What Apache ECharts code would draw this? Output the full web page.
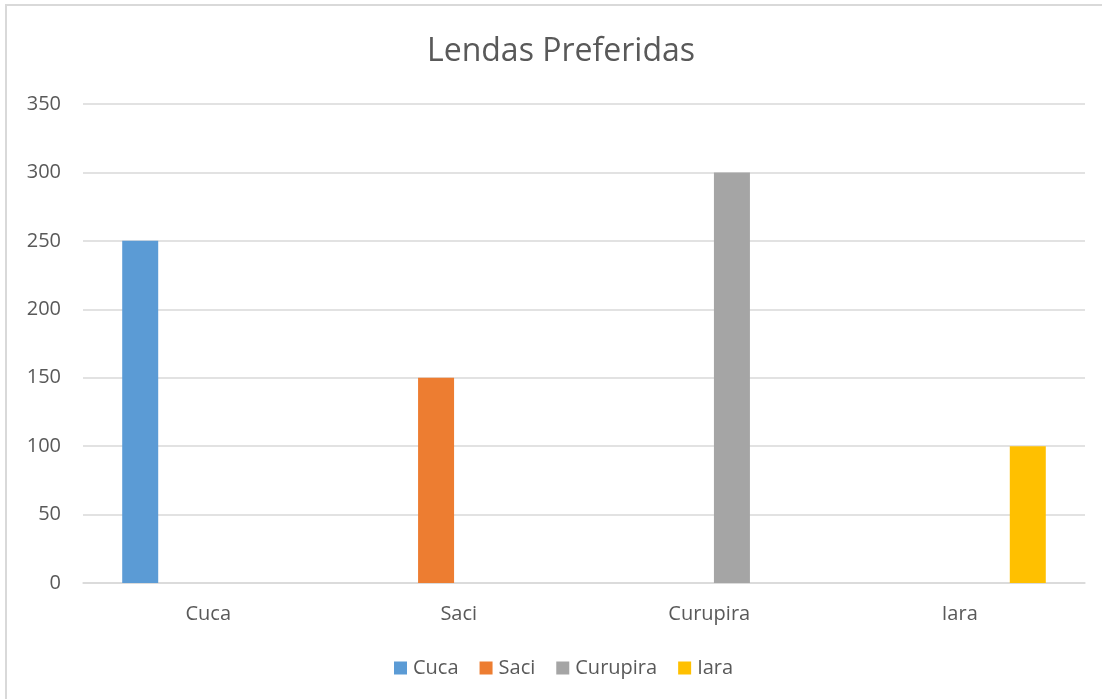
<!DOCTYPE html>
<html>
<head>
<meta charset="utf-8">
<script src="https://cdn.jsdelivr.net/npm/echarts@6/dist/echarts.min.js"></script>
<style>
  html, body { margin: 0; padding: 0; background: #fff; }
  #chart { width: 1102px; height: 699px; }
</style>
</head>
<body>
<div id="chart"></div>
<script>
const categories = ["Cuca", "Saci", "Curupira", "Iara"];
const seriesNames = ["Cuca", "Saci", "Curupira", "Iara"];
const cucaValues = [250, null, null, null];
const saciValues = [null, 150, null, null];
const curupiraValues = [null, null, 300, null];
const iaraValues = [null, null, null, 100];
const yTicks = [0, 50, 100, 150, 200, 250, 300, 350];

const colors = ["#5B9BD5", "#ED7D31", "#A5A5A5", "#FFC000"];
const textColor = "#595959";
const fontFamily = "'Open Sans', sans-serif";

const valueLists = [cucaValues, saciValues, curupiraValues, iaraValues];

const chart = echarts.init(document.getElementById("chart"), null, { renderer: "canvas" });

const seriesData = seriesNames.map((name, index) => ({
  name: name,
  type: "bar",
  data: valueLists[index],
  barWidth: 36,
  barGap: "26%",
  itemStyle: { color: colors[index] },
}));

const option = {
  backgroundColor: "#fff",
  animation: false,
  color: colors,
  textStyle: { fontFamily: fontFamily },
  title: {
    text: "Lendas Preferidas",
    left: 556,
    textAlign: "center",
    top: 31,
    textStyle: {
      fontFamily: fontFamily,
      fontSize: 32,
      fontWeight: "normal",
      color: textColor,
    },
  },
  legend: {
    data: seriesNames,
    left: 389,
    top: 653,
    itemWidth: 13,
    itemHeight: 13,
    itemGap: 21,
    icon: "rect",
    textStyle: {
      fontFamily: fontFamily,
      fontSize: 20,
      color: textColor,
      padding: [0, 0, 0, 1],
    },
  },
  grid: {
    left: 83,
    right: 17,
    top: 104,
    bottom: 116,
    containLabel: false,
  },
  xAxis: {
    type: "category",
    data: categories,
    axisLine: { lineStyle: { color: "#D9D9D9", width: 1.5 } },
    axisTick: { show: false },
    axisLabel: {
      margin: 21,
      fontFamily: fontFamily,
      fontSize: 20,
      color: textColor,
    },
  },
  yAxis: {
    type: "value",
    min: yTicks[0],
    max: yTicks[yTicks.length - 1],
    interval: 50,
    axisLine: { show: false },
    axisTick: { show: false },
    axisLabel: {
      margin: 22,
      fontFamily: fontFamily,
      fontSize: 20,
      color: textColor,
    },
    splitLine: { lineStyle: { color: "#D9D9D9", width: 1.5 } },
  },
  graphic: [
    {
      type: "rect",
      silent: true,
      shape: { x: 6, y: 5, width: 1200, height: 800 },
      style: { fill: "transparent", stroke: "#D9D9D9", lineWidth: 2 },
    },
  ],
  series: seriesData,
};

chart.setOption(option);
</script>
</body>
</html>
